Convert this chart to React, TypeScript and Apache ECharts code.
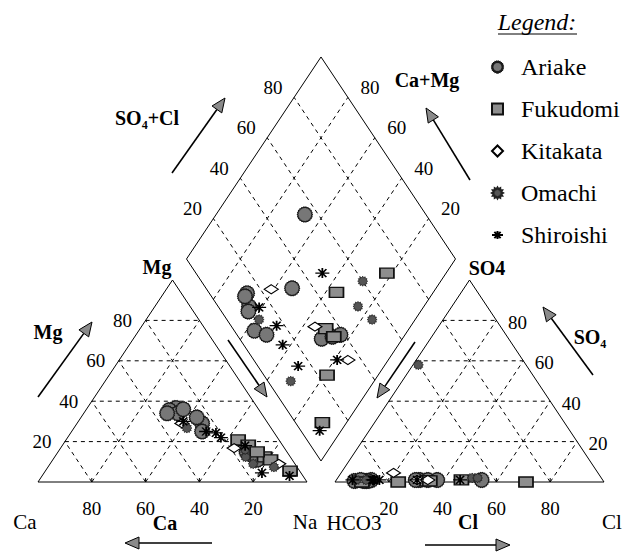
import React, { useEffect, useRef } from "react";
import * as echarts from "echarts";

// ---- data (meq %), one sample per index ----
const sites = ["Ariake", "Fukudomi", "Kitakata", "Omachi", "Shiroishi"];

const ariakeMg = [36.6, 29, 35.6, 34, 34, 32, 25, 15, 13, 11, 36];
const ariakeNa = [33, 46.5, 31, 35, 31, 43, 48.5, 70, 73.5, 76, 36];
const ariakeSO4 = [1, 1, 1, 0.5, 0.5, 0.5, 0.5, 1, 1, 1, 1];
const ariakeCl = [54, 31, 13, 11, 12, 7, 10.5, 29.5, 34, 37.5, 9];

const fukudomiMg = [20.8, 12.4, 10.9, 5.4, 18.3, 14.9];
const fukudomiNa = [64, 78, 81, 91, 69, 74];
const fukudomiSO4 = [1, 0, 0, 0, 0.5, 0.5];
const fukudomiCl = [46.5, 71, 23.5, 10, 34, 35];

const kitakataMg = [29, 16.8, 9];
const kitakataNa = [39, 64.5, 85];
const kitakataSO4 = [4.5, 1, 1];
const kitakataCl = [19.5, 30, 34];

const omachiMg = [12.4, 9, 7.4, 26.7, 16];
const omachiNa = [71, 75.5, 84, 42, 69];
const omachiSO4 = [58, 2, 2, 1, 1];
const omachiCl = [2, 50, 52, 11, 7.5];

const shiroishiMg = [30, 25, 24.3, 22, 4.5, 18, 3];
const shiroishiNa = [39, 50, 54, 57, 81, 68, 92];
const shiroishiSO4 = [1, 1, 1, 1, 1, 1, 1];
const shiroishiCl = [14, 16, 46, 13.5, 30, 14, 6];

const ticks = [20, 40, 60, 80];

// ---- layout ----
const W = 628;
const H = 556;
const SIDE = 269;
const TH = 202;
const BASE = 482;
const LX = 38;
const GAP = 28;
const RX = LX + SIDE + GAP;
const BX = LX + SIDE + GAP / 2;
const BY = BASE - (GAP / 2) * TH / (SIDE / 2);
const FONT = "Liberation Serif, serif";

const cat = (mg: number, na: number) => [LX + (SIDE * (na + mg / 2)) / 100, BASE - (TH * mg) / 100];
const an = (so4: number, cl: number) => [RX + (SIDE * (cl + so4 / 2)) / 100, BASE - (TH * so4) / 100];
const dia = (camg: number, so4cl: number) => [
  BX + ((SIDE / 2) * (so4cl - camg)) / 100,
  BY - (TH * (so4cl + camg)) / 100,
];

function sitePoints(mg: number[], na: number[], so4: number[], cl: number[]) {
  const out: number[][] = [];
  mg.forEach((m, i) => {
    out.push(cat(m, na[i]));
    out.push(an(so4[i], cl[i]));
    out.push(dia(100 - na[i], so4[i] + cl[i]));
  });
  return out;
}

function gear(n: number, r1: number, r2: number) {
  let d = "path://";
  for (let i = 0; i < n * 2; i++) {
    const r = i % 2 === 0 ? r1 : r2;
    const a = (Math.PI * i) / n;
    const x = (r1 + r * Math.cos(a)).toFixed(2);
    const y = (r1 + r * Math.sin(a)).toFixed(2);
    d += (i === 0 ? "M" : "L") + x + "," + y;
  }
  return d + "Z";
}

function label(x: number, y: number, text: string, size = 19, weight = "normal", style = "normal") {
  return {
    type: "text",
    x,
    y,
    silent: true,
    style: {
      text,
      fontSize: size,
      fontFamily: FONT,
      fontWeight: weight,
      fontStyle: style,
      fill: "#000",
      align: "center",
      verticalAlign: "middle",
      textAlign: "center",
      textVerticalAlign: "middle",
    },
  };
}

function arrow(x1: number, y1: number, x2: number, y2: number) {
  const dx = x2 - x1;
  const dy = y2 - y1;
  const len = Math.sqrt(dx * dx + dy * dy);
  const ux = dx / len;
  const uy = dy / len;
  const hl = 14;
  const hw = 6;
  const bx = x2 - ux * hl;
  const by = y2 - uy * hl;
  return {
    type: "group",
    silent: true,
    children: [
      { type: "line", shape: { x1, y1, x2: bx, y2: by }, style: { stroke: "#000", lineWidth: 1.6 } },
      {
        type: "polygon",
        shape: {
          points: [
            [x2, y2],
            [bx - uy * hw, by + ux * hw],
            [bx + uy * hw, by - ux * hw],
          ],
        },
        style: { fill: "#8a8a8a", stroke: "#000", lineWidth: 1 },
      },
    ],
  };
}

function seg(a: number[], b: number[]) {
  return { coords: [a, b] };
}

export default function App() {
  const ref = useRef<HTMLDivElement>(null);

  useEffect(() => {
    document.body.style.margin = "0";
    if (!ref.current) return;
    const chart = echarts.init(ref.current, null, { renderer: "svg" });

    const frames = [
      { coords: [cat(0, 0), cat(0, 100), cat(100, 0), cat(0, 0)] },
      { coords: [an(0, 0), an(0, 100), an(100, 0), an(0, 0)] },
      { coords: [dia(0, 0), dia(0, 100), dia(100, 100), dia(100, 0), dia(0, 0)] },
    ];
    const baseTicks: any[] = [];
    const grid: any[] = [];
    ticks.forEach((k) => {
      grid.push(seg(cat(k, 0), cat(k, 100 - k)));
      grid.push(seg(cat(0, k), cat(100 - k, k)));
      grid.push(seg(cat(0, 100 - k), cat(100 - k, 0)));
      grid.push(seg(an(k, 0), an(k, 100 - k)));
      grid.push(seg(an(0, k), an(100 - k, k)));
      grid.push(seg(an(0, 100 - k), an(100 - k, 0)));
      grid.push(seg(dia(k, 0), dia(k, 100)));
      grid.push(seg(dia(0, k), dia(100, k)));
      const c = cat(0, 100 - k);
      baseTicks.push(seg(c, [c[0], c[1] - 4]));
      const a = an(0, k);
      baseTicks.push(seg(a, [a[0], a[1] - 4]));
    });

    const texts: any[] = [];
    ticks.forEach((k) => {
      const b = cat(0, 100 - k);
      texts.push(label(b[0], 508, String(k)));
      const m = cat(k, 0);
      texts.push(label(m[0] - 23, m[1], String(k)));
      const s = an(k, 100 - k);
      texts.push(label(s[0] + 21, s[1] + 2, String(k)));
      const c = an(0, k);
      texts.push(label(c[0], 508, String(k)));
      const dl = dia(100, k);
      texts.push(label(dl[0] - 21, dl[1] - 10, String(k)));
      const dr = dia(k, 100);
      texts.push(label(dr[0] + 22, dr[1] - 10, String(k)));
    });

    const graphics: any[] = [
      ...texts,
      label(537, 22, "Legend:", 24, "normal", "italic"),
      { type: "line", silent: true, shape: { x1: 498, y1: 34, x2: 577, y2: 34 }, style: { stroke: "#000", lineWidth: 1 } },
      label(147, 118, "SO₄+Cl", 20, "bold"),
      label(427, 80, "Ca+Mg", 20, "bold"),
      label(48, 332, "Mg", 20, "bold"),
      label(590, 337, "SO₄", 20, "bold"),
      label(165, 523, "Ca", 20, "bold"),
      label(468, 522, "Cl", 20, "bold"),
      label(157, 267, "Mg", 20, "bold"),
      label(487, 268, "SO4", 20, "bold"),
      label(25, 522, "Ca", 21),
      label(305, 522, "Na", 21),
      label(354, 523, "HCO3", 21),
      label(612, 522, "Cl", 21),
      arrow(172, 173, 225, 98),
      arrow(470, 180, 426, 108),
      arrow(38, 397, 92, 322),
      arrow(593, 375, 543, 307),
      arrow(212, 543, 125, 543),
      arrow(425, 545, 510, 545),
      arrow(228, 340, 267, 397),
      arrow(415, 342, 377, 398),
    ];

    const option: any = {
      animation: false,
      backgroundColor: "#fff",
      grid: { left: 0, right: 0, top: 0, bottom: 0 },
      xAxis: { type: "value", min: 0, max: W, show: false },
      yAxis: { type: "value", min: 0, max: H, inverse: true, show: false },
      legend: {
        data: sites,
        orient: "vertical",
        left: 486,
        top: 50,
        itemWidth: 11,
        itemHeight: 11,
        itemGap: 18,
        selectedMode: false,
        textStyle: { fontFamily: FONT, fontSize: 24, lineHeight: 24, color: "#000", padding: [0, 0, 0, 13] },
      },
      graphic: graphics,
      series: [
        {
          type: "lines",
          coordinateSystem: "cartesian2d",
          polyline: true,
          silent: true,
          z: 1,
          lineStyle: { color: "#000", width: 1, type: "solid", opacity: 1 },
          data: frames,
        },
        {
          type: "lines",
          coordinateSystem: "cartesian2d",
          polyline: true,
          silent: true,
          z: 1,
          lineStyle: { color: "#000", width: 1, type: "solid", opacity: 1 },
          data: baseTicks,
        },
        {
          type: "lines",
          coordinateSystem: "cartesian2d",
          polyline: true,
          silent: true,
          z: 1,
          lineStyle: { color: "#000", width: 1, type: [4, 4], opacity: 1 },
          data: grid,
        },
        {
          name: "Ariake",
          type: "scatter",
          z: 3,
          symbol: gear(22, 10, 9.1),
          symbolSize: 15,
          itemStyle: { color: "#777", borderColor: "#1a1a1a", borderWidth: 1.2, opacity: 1 },
          data: sitePoints(ariakeMg, ariakeNa, ariakeSO4, ariakeCl),
        },
        {
          name: "Fukudomi",
          type: "scatter",
          z: 3,
          symbol: "rect",
          symbolSize: [14, 10],
          itemStyle: { color: "#8e8e8e", borderColor: "#111", borderWidth: 1.5, opacity: 1 },
          data: sitePoints(fukudomiMg, fukudomiNa, fukudomiSO4, fukudomiCl),
        },
        {
          name: "Kitakata",
          type: "scatter",
          z: 3,
          symbol: "diamond",
          symbolSize: [14, 9],
          itemStyle: { color: "#fff", borderColor: "#000", borderWidth: 1.2, opacity: 1 },
          data: sitePoints(kitakataMg, kitakataNa, kitakataSO4, kitakataCl),
        },
        {
          name: "Omachi",
          type: "scatter",
          z: 3,
          symbol: gear(12, 10, 7.2),
          symbolSize: 10,
          itemStyle: { color: "#555", borderColor: "#222", borderWidth: 0.8, opacity: 1 },
          data: sitePoints(omachiMg, omachiNa, omachiSO4, omachiCl),
        },
        {
          name: "Shiroishi",
          type: "scatter",
          z: 3,
          symbol: "path://M0,5L14,5M7,0L7,10M3,1L11,9M11,1L3,9",
          symbolSize: [14, 10],
          itemStyle: { color: "rgba(0,0,0,0)", borderColor: "#000", borderWidth: 1.5, opacity: 1 },
          data: sitePoints(shiroishiMg, shiroishiNa, shiroishiSO4, shiroishiCl),
        },
      ],
    };

    chart.setOption(option);
    return () => chart.dispose();
  }, []);

  return <div ref={ref} style={{ width: W, height: H }} />;
}
